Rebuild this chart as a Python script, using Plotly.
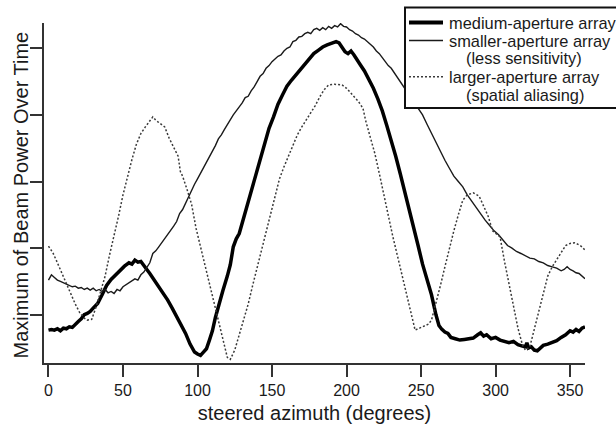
import plotly.graph_objects as go

# steered azimuth (degrees) and beam-power maxima for each array geometry
medium_az = [0, 2, 4, 6, 8, 10, 12, 14, 16, 18, 20, 22, 24, 26, 28, 30, 33, 36, 39, 42, 45,
             48, 51, 54, 56, 58, 60, 62, 64, 66, 68, 71, 74, 77, 80, 83, 86, 89, 92, 95, 98,
             100, 102, 104, 106, 108, 110, 112, 114, 117, 120, 122, 124, 126, 128, 130, 133,
             136, 139, 142, 145, 148, 151, 154, 157, 160, 163, 166, 169, 172, 175, 178, 181,
             184, 187, 190, 193, 195, 197, 199, 201, 203, 205, 207, 209, 212, 215, 218, 221,
             224, 227, 230, 233, 236, 239, 242, 245, 248, 251, 254, 257, 260, 262, 264, 266,
             268, 270, 273, 276, 279, 282, 285, 288, 290, 292, 294, 297, 300, 303, 306, 309,
             312, 315, 318, 320, 321, 322, 324, 326, 328, 330, 332, 335, 338, 341, 344, 347,
             350, 352, 354, 356, 358, 360]
medium_pow = [0.77, 0.78, 0.77, 0.79, 0.76, 0.80, 0.79, 0.82, 0.81, 0.86, 0.90, 0.94, 1.00,
              1.02, 1.05, 1.10, 1.17, 1.30, 1.44, 1.53, 1.60, 1.66, 1.73, 1.78, 1.76, 1.82,
              1.79, 1.80, 1.73, 1.68, 1.62, 1.52, 1.43, 1.33, 1.22, 1.10, 0.98, 0.86, 0.72,
              0.56, 0.44, 0.41, 0.39, 0.44, 0.49, 0.62, 0.76, 0.96, 1.14, 1.36, 1.58, 1.75,
              2.02, 2.14, 2.22, 2.38, 2.62, 2.86, 3.10, 3.32, 3.56, 3.80, 3.97, 4.16, 4.30,
              4.43, 4.52, 4.60, 4.68, 4.76, 4.86, 4.92, 4.97, 5.02, 5.05, 5.07, 5.10, 5.08,
              5.02, 4.95, 4.92, 4.96, 4.90, 4.82, 4.76, 4.66, 4.54, 4.40, 4.24, 4.06, 3.84,
              3.62, 3.38, 3.12, 2.86, 2.58, 2.30, 2.04, 1.76, 1.54, 1.30, 1.00, 0.84, 0.78,
              0.74, 0.72, 0.66, 0.64, 0.62, 0.63, 0.64, 0.65, 0.70, 0.73, 0.68, 0.70, 0.64,
              0.66, 0.62, 0.60, 0.58, 0.60, 0.55, 0.53, 0.52, 0.58, 0.50, 0.52, 0.47, 0.46,
              0.50, 0.54, 0.56, 0.58, 0.61, 0.66, 0.70, 0.76, 0.74, 0.78, 0.75, 0.80, 0.82]

smaller_az = [0, 2, 4, 6, 8, 10, 12, 14, 16, 18, 20, 22, 24, 26, 28, 30, 32, 34, 36, 38, 40,
              42, 44, 46, 48, 50, 52, 54, 56, 58, 60, 62, 64, 66, 68, 70, 72, 74, 76, 78, 80,
              82, 84, 86, 88, 90, 92, 94, 96, 98, 100, 102, 104, 106, 108, 110, 112, 114, 116,
              118, 120, 122, 124, 126, 128, 130, 132, 134, 136, 138, 140, 142, 144, 146, 148,
              150, 152, 154, 156, 158, 160, 162, 164, 166, 168, 170, 172, 174, 176, 178, 180,
              182, 184, 186, 188, 190, 192, 194, 196, 198, 200, 202, 204, 206, 208, 210, 212,
              214, 216, 218, 220, 222, 224, 226, 228, 230, 233, 236, 239, 242, 245, 248, 251,
              254, 257, 260, 263, 266, 269, 272, 275, 278, 281, 284, 287, 290, 293, 296, 299,
              302, 305, 308, 311, 314, 317, 320, 323, 326, 329, 332, 335, 338, 341, 344, 346,
              348, 350, 352, 354, 356, 358, 360]
smaller_pow = [1.52, 1.60, 1.56, 1.52, 1.50, 1.48, 1.46, 1.45, 1.42, 1.43, 1.40, 1.41, 1.38,
               1.40, 1.37, 1.40, 1.36, 1.38, 1.35, 1.38, 1.33, 1.35, 1.32, 1.38, 1.36, 1.42,
               1.45, 1.48, 1.50, 1.54, 1.52, 1.60, 1.64, 1.72, 1.78, 1.92, 1.96, 2.02, 2.08,
               2.14, 2.20, 2.26, 2.33, 2.40, 2.52, 2.58, 2.68, 2.78, 2.86, 2.96, 3.04, 3.12,
               3.22, 3.30, 3.38, 3.46, 3.54, 3.64, 3.70, 3.78, 3.86, 3.94, 4.00, 4.06, 4.12,
               4.18, 4.26, 4.28, 4.36, 4.42, 4.50, 4.58, 4.62, 4.70, 4.74, 4.80, 4.84, 4.88,
               4.90, 4.96, 5.00, 5.02, 5.10, 5.12, 5.17, 5.18, 5.22, 5.24, 5.22, 5.28, 5.30,
               5.27, 5.31, 5.28, 5.33, 5.30, 5.34, 5.32, 5.37, 5.33, 5.32, 5.28, 5.26, 5.22,
               5.20, 5.16, 5.14, 5.10, 5.06, 5.02, 4.96, 4.92, 4.86, 4.80, 4.74, 4.70, 4.60,
               4.52, 4.40, 4.30, 4.20, 4.10, 4.00, 3.86, 3.72, 3.58, 3.46, 3.32, 3.20, 3.08,
               3.00, 2.92, 2.80, 2.70, 2.60, 2.52, 2.42, 2.34, 2.26, 2.20, 2.12, 2.04, 2.00,
               1.95, 1.92, 1.88, 1.85, 1.84, 1.80, 1.78, 1.74, 1.72, 1.70, 1.66, 1.68, 1.72,
               1.68, 1.66, 1.63, 1.62, 1.58, 1.54]

larger_az = [0, 3, 6, 9, 12, 15, 18, 21, 24, 26, 29, 32, 35, 38, 41, 44, 47, 50, 53, 56, 59,
             62, 65, 68, 70, 72, 75, 78, 81, 84, 87, 88.5, 90, 93, 96, 99, 102, 105, 108, 111,
             114, 117, 120, 122, 125, 128, 131, 134, 137, 140, 143, 146, 149, 152, 155, 158,
             161, 164, 167, 170, 173, 176, 179, 182, 185, 188, 192, 197, 200, 204, 208, 211,
             213, 216, 219, 222, 225, 228, 231, 234, 237, 240, 243, 245, 246, 249, 252, 255,
             257, 260, 263, 266, 269, 272, 275, 278, 281, 285, 289, 292, 295, 298, 301, 303,
             306, 309, 312, 315, 318, 320, 323, 326, 329, 332, 335, 338, 341, 344, 347, 350,
             353, 356, 358, 360]
larger_pow = [2.03, 1.93, 1.78, 1.62, 1.48, 1.32, 1.16, 1.03, 0.95, 0.92, 0.93, 1.12, 1.34,
              1.58, 1.90, 2.18, 2.48, 2.80, 3.08, 3.33, 3.56, 3.72, 3.82, 3.90, 3.97, 3.92,
              3.87, 3.82, 3.65, 3.52, 3.38, 3.15, 3.08, 2.88, 2.66, 2.30, 2.02, 1.74, 1.45,
              1.18, 0.90, 0.60, 0.36, 0.33, 0.47, 0.70, 0.92, 1.16, 1.44, 1.70, 1.96, 2.24,
              2.50, 2.76, 3.04, 3.22, 3.38, 3.56, 3.70, 3.82, 3.92, 4.02, 4.14, 4.27, 4.38,
              4.45, 4.46, 4.45, 4.40, 4.30, 4.20, 4.10, 3.90, 3.66, 3.42, 3.12, 2.80, 2.48,
              2.18, 1.90, 1.62, 1.36, 1.08, 0.86, 0.77, 0.80, 0.83, 0.86, 0.92, 1.16, 1.44,
              1.72, 2.00, 2.26, 2.50, 2.72, 2.80, 2.83, 2.78, 2.64, 2.48, 2.26, 2.20, 2.17,
              1.80, 1.46, 1.13, 0.80, 0.55, 0.47, 0.52, 0.78, 1.06, 1.33, 1.58, 1.72, 1.83,
              1.94, 2.04, 2.07, 2.08, 2.05, 2.02, 1.97]

legend_labels = [["medium-aperture array"],
                 ["smaller-aperture array", "(less sensitivity)"],
                 ["larger-aperture array", "(spatial aliasing)"]]

FONT = "Liberation Sans, Arial, sans-serif"
TEXT = "#1a1a1a"
AXIS_COLOR = "#333333"

W, H = 616, 424
ML, MR, MT, MB = 44, 31, 23, 61
PW, PH = W - ML - MR, H - MT - MB


def px_x(px):
    """Horizontal pixel position -> paper fraction."""
    return (px - ML) / PW


def px_y(py):
    """Vertical pixel position (from top) -> paper fraction."""
    return (H - MB - py) / PH


styles = [dict(color="#000000", width=3.5),
          dict(color="#1a1a1a", width=1.4),
          dict(color="#3a3a3a", width=1.5, dash="2px,2px")]

fig = go.Figure()
for az, pw, lab, st in [(medium_az, medium_pow, legend_labels[0], styles[0]),
                        (smaller_az, smaller_pow, legend_labels[1], styles[1]),
                        (larger_az, larger_pow, legend_labels[2], styles[2])]:
    fig.add_trace(go.Scatter(x=az, y=pw, mode="lines", name=" ".join(lab),
                             line=st, showlegend=False))

# boxed key in the upper right corner, its frame running off the right edge
shapes = [dict(type="rect", xref="paper", yref="paper",
               x0=px_x(405), x1=px_x(640), y0=px_y(108), y1=px_y(7.5),
               line=dict(color="#111111", width=2), fillcolor="white", layer="above")]
key_rows = [22.5, 40.5, 76.8]
for row, st in zip(key_rows, styles):
    sample = dict(st)
    if st["width"] > 3:
        sample["width"] = 4
    shapes.append(dict(type="line", xref="paper", yref="paper",
                       x0=px_x(409), x1=px_x(443), y0=px_y(row), y1=px_y(row),
                       line=sample, layer="above"))

annotations = []
text_rows = [(legend_labels[0][0], 22.5, 447),
             (legend_labels[1][0], 40.5, 447),
             (legend_labels[1][1], 58.5, 463.5),
             (legend_labels[2][0], 76.8, 447),
             (legend_labels[2][1], 94.5, 463.5)]
for txt, row, left in text_rows:
    annotations.append(dict(text=txt, xref="paper", yref="paper", x=px_x(left), y=px_y(row),
                            xanchor="left", yanchor="middle", showarrow=False,
                            font=dict(family=FONT, size=16.4, color=TEXT)))

annotations.append(dict(text="Maximum of Beam Power Over Time", xref="paper", yref="paper",
                        x=px_x(20.5), y=px_y(195), xanchor="center", yanchor="middle",
                        textangle=-90, showarrow=False,
                        font=dict(family=FONT, size=20, color=TEXT)))

fig.update_layout(
    width=W, height=H,
    margin=dict(l=ML, r=MR, t=MT, b=MB, autoexpand=False),
    paper_bgcolor="white", plot_bgcolor="white",
    font=dict(family=FONT, color=TEXT, size=16),
    showlegend=False,
    shapes=shapes,
    annotations=annotations,
    xaxis=dict(
        range=[-3, 360], tickmode="array", tickvals=[0, 50, 100, 150, 200, 250, 300, 350],
        ticks="outside", ticklen=12, tickwidth=2, tickcolor=AXIS_COLOR,
        showline=True, linecolor=AXIS_COLOR, linewidth=2,
        showgrid=False, zeroline=False, automargin=False,
        tickfont=dict(size=16, family=FONT, color=TEXT),
        title=dict(text="steered azimuth (degrees)", font=dict(size=20, family=FONT, color=TEXT),
                   standoff=9),
    ),
    yaxis=dict(
        range=[0.276, 5.38], tickmode="array", tickvals=[1, 2, 3, 4, 5],
        showticklabels=False,
        ticks="outside", ticklen=12, tickwidth=2, tickcolor=AXIS_COLOR,
        showline=True, linecolor=AXIS_COLOR, linewidth=2,
        showgrid=False, zeroline=False, automargin=False,
    ),
)

fig.write_html("out.html")
